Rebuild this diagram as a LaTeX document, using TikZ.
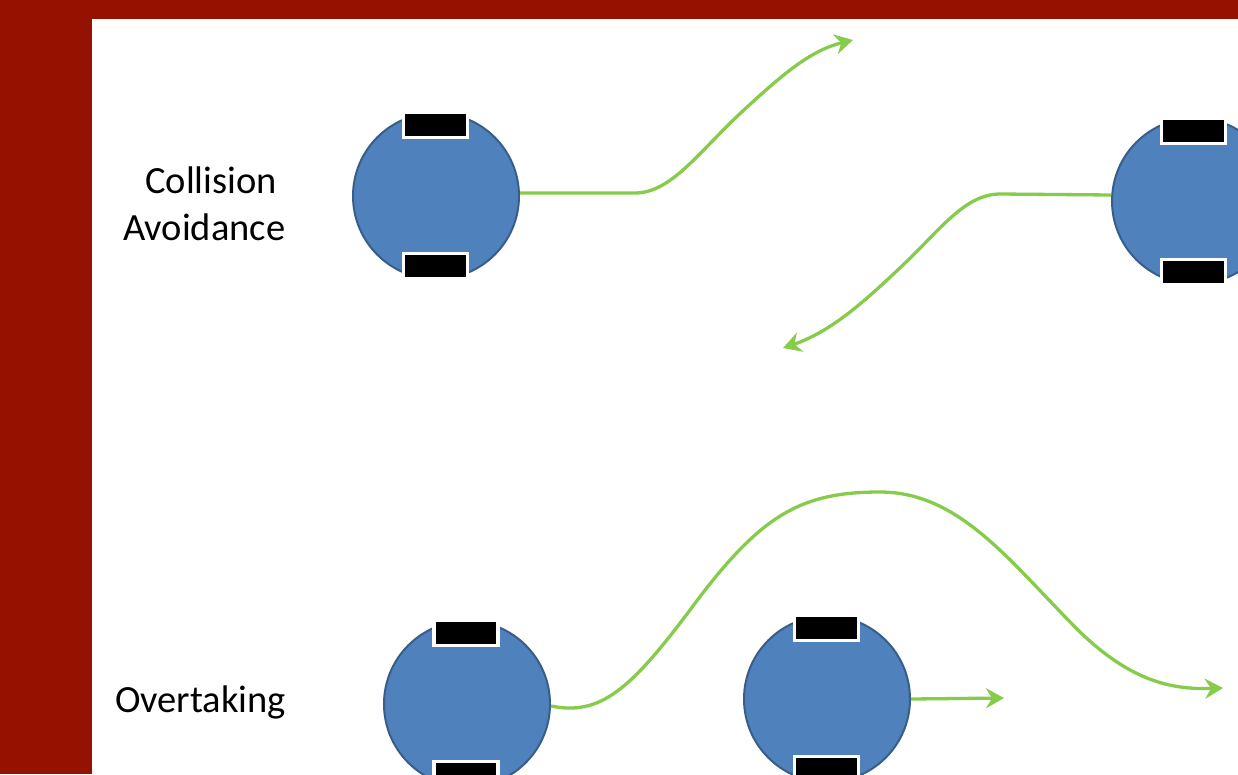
\documentclass[tikz,border=0pt]{standalone}
\usepackage{fontspec}
\setmainfont{Carlito}
\usetikzlibrary{arrows.meta}
\definecolor{bgred}{RGB}{149,17,0}
\definecolor{robotblue}{RGB}{79,129,189}
\definecolor{robotedge}{RGB}{56,93,138}
\definecolor{pathgreen}{RGB}{134,204,74}
\tikzset{
  robot/.style={circle, fill=robotblue, draw=robotedge, line width=2pt, minimum size=166pt, inner sep=0pt},
  wheel/.style={rectangle, fill=black, draw=white, line width=3.5pt, minimum width=64pt, minimum height=25pt, inner sep=0pt},
  trail/.style={draw=pathgreen, line width=3.3pt, -{Stealth[length=18pt,width=20pt,inset=6pt]}},
  label/.style={font=\fontsize{38.5}{46}\selectfont, inner sep=0pt, anchor=base west, text=black}
}
\begin{document}
\begin{tikzpicture}[x=1pt,y=-1pt]
\useasboundingbox (0,0) rectangle (1238,774);
\fill[bgred] (0,0) rectangle (1238,774);
\fill[white] (92,19) rectangle (1238,774);

% robots
\node[robot] (r1) at (436,196) {};
\node[wheel] (r1t) at (435.5,125) {};
\node[wheel] (r1b) at (435.5,266) {};

\node[robot] (r2) at (1195,201) {};
\node[wheel] (r2t) at (1193.5,131) {};
\node[wheel] (r2b) at (1193.5,272) {};

\node[robot] (r3) at (467,704) {};
\node[wheel] (r3t) at (466,633) {};
\node[wheel] (r3b) at (466,774) {};

\node[robot] (r4) at (827,699) {};
\node[wheel] (r4t) at (826.5,628) {};
\node[wheel] (r4b) at (826.5,769) {};

% labels
\node[label] (l1) at (145,193) {Collision};
\node[label] (l2) at (123,240) {Avoidance};
\node[label] (l3) at (115,712) {Overtaking};

% trail end points
\coordinate (e1) at (853,40);
\coordinate (e2) at (783,348);
\coordinate (e3) at (1223,688);
\coordinate (e4) at (1004,698);

% trails
\draw[trail] ([yshift=3pt]r1.east) -- (635,193) .. controls (672,193) and (700,150) .. (745,109) .. controls (785,72) and (812,50) .. (e1);
\draw[trail] ([yshift=6pt]r2.west) -- (1000,194) .. controls (965,194) and (940,230) .. (903,265) .. controls (862,304) and (830,332) .. (e2);
\draw[trail] ([yshift=-2pt]r3.east) .. controls (600,716) and (630,690) .. (690,610) .. controls (760,515) and (800,492) .. (880,492) .. controls (960,492) and (1010,562) .. (1080,632) .. controls (1130,680) and (1170,690) .. (e3);
\draw[trail] (r4.east) -- (e4);
\end{tikzpicture}
\end{document}
